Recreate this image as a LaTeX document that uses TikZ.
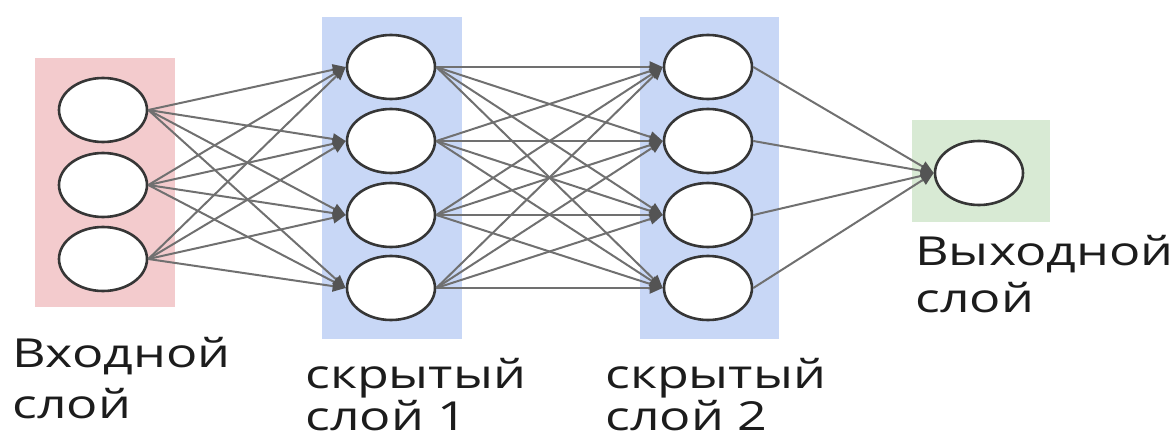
\documentclass[tikz,border=0pt]{standalone}
\usepackage{fontspec}
\setmainfont{Open Sans}
\usetikzlibrary{arrows.meta,shapes.geometric}
\definecolor{inpink}{HTML}{F3CBCD}
\definecolor{hidblue}{HTML}{C8D7F6}
\definecolor{outgreen}{HTML}{D8EAD4}
\definecolor{edgegray}{HTML}{707070}
\definecolor{ringgray}{HTML}{363636}
\definecolor{txt}{HTML}{1C1C1C}
\tikzset{
  neuron/.style={ellipse, draw=ringgray, line width=2.6pt, fill=white,
    minimum width=88pt, minimum height=64pt, inner sep=0pt},
  link/.style={draw=edgegray, line width=2pt,
    -{Triangle[length=13pt,width=11pt,fill=ringgray!85,color=ringgray!85]}},
  lbl/.style={anchor=base west, inner sep=0pt, text=txt, xscale=1.3,
    transform shape, font=\fontsize{40}{46}\selectfont},
}
\begin{document}
\begin{tikzpicture}[x=1pt,y=-1pt]
\useasboundingbox (0,0) rectangle (1175,441);
% layer backgrounds
\fill[inpink] (35,58) rectangle (175,307);
\fill[hidblue] (322,17) rectangle (462,339);
\fill[hidblue] (640,17) rectangle (779,339);
\fill[outgreen] (912,120) rectangle (1050,222);
% neurons
\node[neuron] (i1) at (103,110) {};
\node[neuron] (i2) at (103,185) {};
\node[neuron] (i3) at (103,259) {};
\node[neuron] (a1) at (391,67) {};
\node[neuron] (a2) at (391,141) {};
\node[neuron] (a3) at (391,215) {};
\node[neuron] (a4) at (391,288) {};
\node[neuron] (b1) at (708,67) {};
\node[neuron] (b2) at (708,141) {};
\node[neuron] (b3) at (708,215) {};
\node[neuron] (b4) at (708,288) {};
\node[neuron] (o1) at (979,173) {};
% connections
\foreach \s in {i1,i2,i3}
  \foreach \t in {a1,a2,a3,a4}
    \draw[link] (\s.east) -- (\t.west);
\foreach \s in {a1,a2,a3,a4}
  \foreach \t in {b1,b2,b3,b4}
    \draw[link] (\s.east) -- (\t.west);
\foreach \s in {b1,b2,b3,b4}
  \draw[link] (\s.east) -- (o1.west);
% labels
\node[lbl] (li1) at (12,367) {Входной};
\node[lbl] (li2) at (12,418) {слой};
\node[lbl] (la1) at (305,388) {скрытый};
\node[lbl] (la2) at (305,430) {слой 1};
\node[lbl] (lb1) at (605,388) {скрытый};
\node[lbl] (lb2) at (605,430) {слой 2};
\node[lbl] (lo1) at (915,265) {Выходной};
\node[lbl] (lo2) at (915,312) {слой};
\end{tikzpicture}
\end{document}
